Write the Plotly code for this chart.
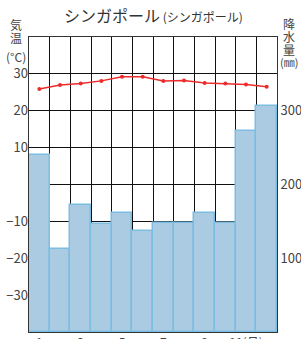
import plotly.graph_objects as go

months = list(range(1, 13))
temp = [25.9, 27.0, 27.4, 28.1, 29.2, 29.2, 28.1, 28.2, 27.5, 27.4, 27.1, 26.5]
precip = [240, 112, 172, 147, 162, 137, 148, 148, 162, 148, 272, 307]
xtick_vals = [1, 3, 5, 7, 9, 11]
xtick_text = ["1", "3", "5", "7", "9", "11(月)"]
ltick_vals = [-30, -20, -10, 10, 20, 30]
rtick_vals = [0, 50, 100, 150, 200, 250, 300, 350, 400]
rtick_text = ["0", "", "100", "", "200", "", "300", "", ""]

FONT = "Noto Sans CJK JP, Noto Sans, sans-serif"

fig = go.Figure()
fig.add_trace(go.Bar(
    x=months, y=precip, yaxis="y",
    marker=dict(color="#abcbe3", line=dict(color="#7cbde2", width=1.5)),
    width=1.0, hoverinfo="skip",
))
fig.add_trace(go.Scatter(
    x=months, y=temp, yaxis="y2", mode="lines+markers",
    line=dict(color="#ee2a2a", width=1.5),
    marker=dict(color="#ee2a2a", size=4), hoverinfo="skip",
))

def py(p):
    return (332 - p) / 295

def px(p):
    return (p - 29) / 248

def ann(text, x, y, size=12, color="#444"):
    return dict(text=text, xref="paper", yref="paper", x=px(x), y=py(y),
                xanchor="center", yanchor="middle", showarrow=False,
                font=dict(size=size, color=color))

fig.update_layout(
    width=301, height=339,
    margin=dict(l=29, r=24, t=37, b=7, autoexpand=False),
    paper_bgcolor="white", plot_bgcolor="white",
    showlegend=False,
    bargap=0,
    font=dict(family=FONT, color="#444", size=13),
    xaxis=dict(
        range=[0.5, 12.5], tickvals=xtick_vals, ticktext=xtick_text,
        showgrid=False, zeroline=False, automargin=False,
        minor=dict(tick0=0.5, dtick=1, showgrid=True, gridcolor="#111", gridwidth=1),
        showline=True, mirror=True, linecolor="#333", linewidth=1,
        tickfont=dict(size=12, color="#444"),
    ),
    yaxis=dict(
        range=[0, 400], side="right", tickvals=rtick_vals, ticktext=rtick_text,
        showgrid=True, gridcolor="#111", gridwidth=1, zeroline=False, automargin=False,
        showline=True, mirror=True, linecolor="#333", linewidth=1,
        tickfont=dict(size=13, color="#444"), ticks="",
    ),
    yaxis2=dict(
        range=[-40, 40], side="left", overlaying="y", tickvals=ltick_vals,
        showgrid=False, zeroline=False, automargin=False,
        tickfont=dict(size=13, color="#444"), ticks="",
    ),
    annotations=[
        ann("シンガポール<span style='font-size:12px'> (シンガポール)</span>", 153.5, 15, 16, "#333"),
        ann("気", 16, 24.5),
        ann("温", 16, 37),
        ann("(°C)", 16, 56, 12),
        ann("降", 289, 23.5),
        ann("水", 289, 36.5),
        ann("量", 289, 49),
        ann("(㎜)", 289, 62.5, 11),
    ],
)

fig.write_html("out.html", config={"displayModeBar": False},
               post_script="document.body.style.margin='0';document.body.style.overflow='hidden';")
